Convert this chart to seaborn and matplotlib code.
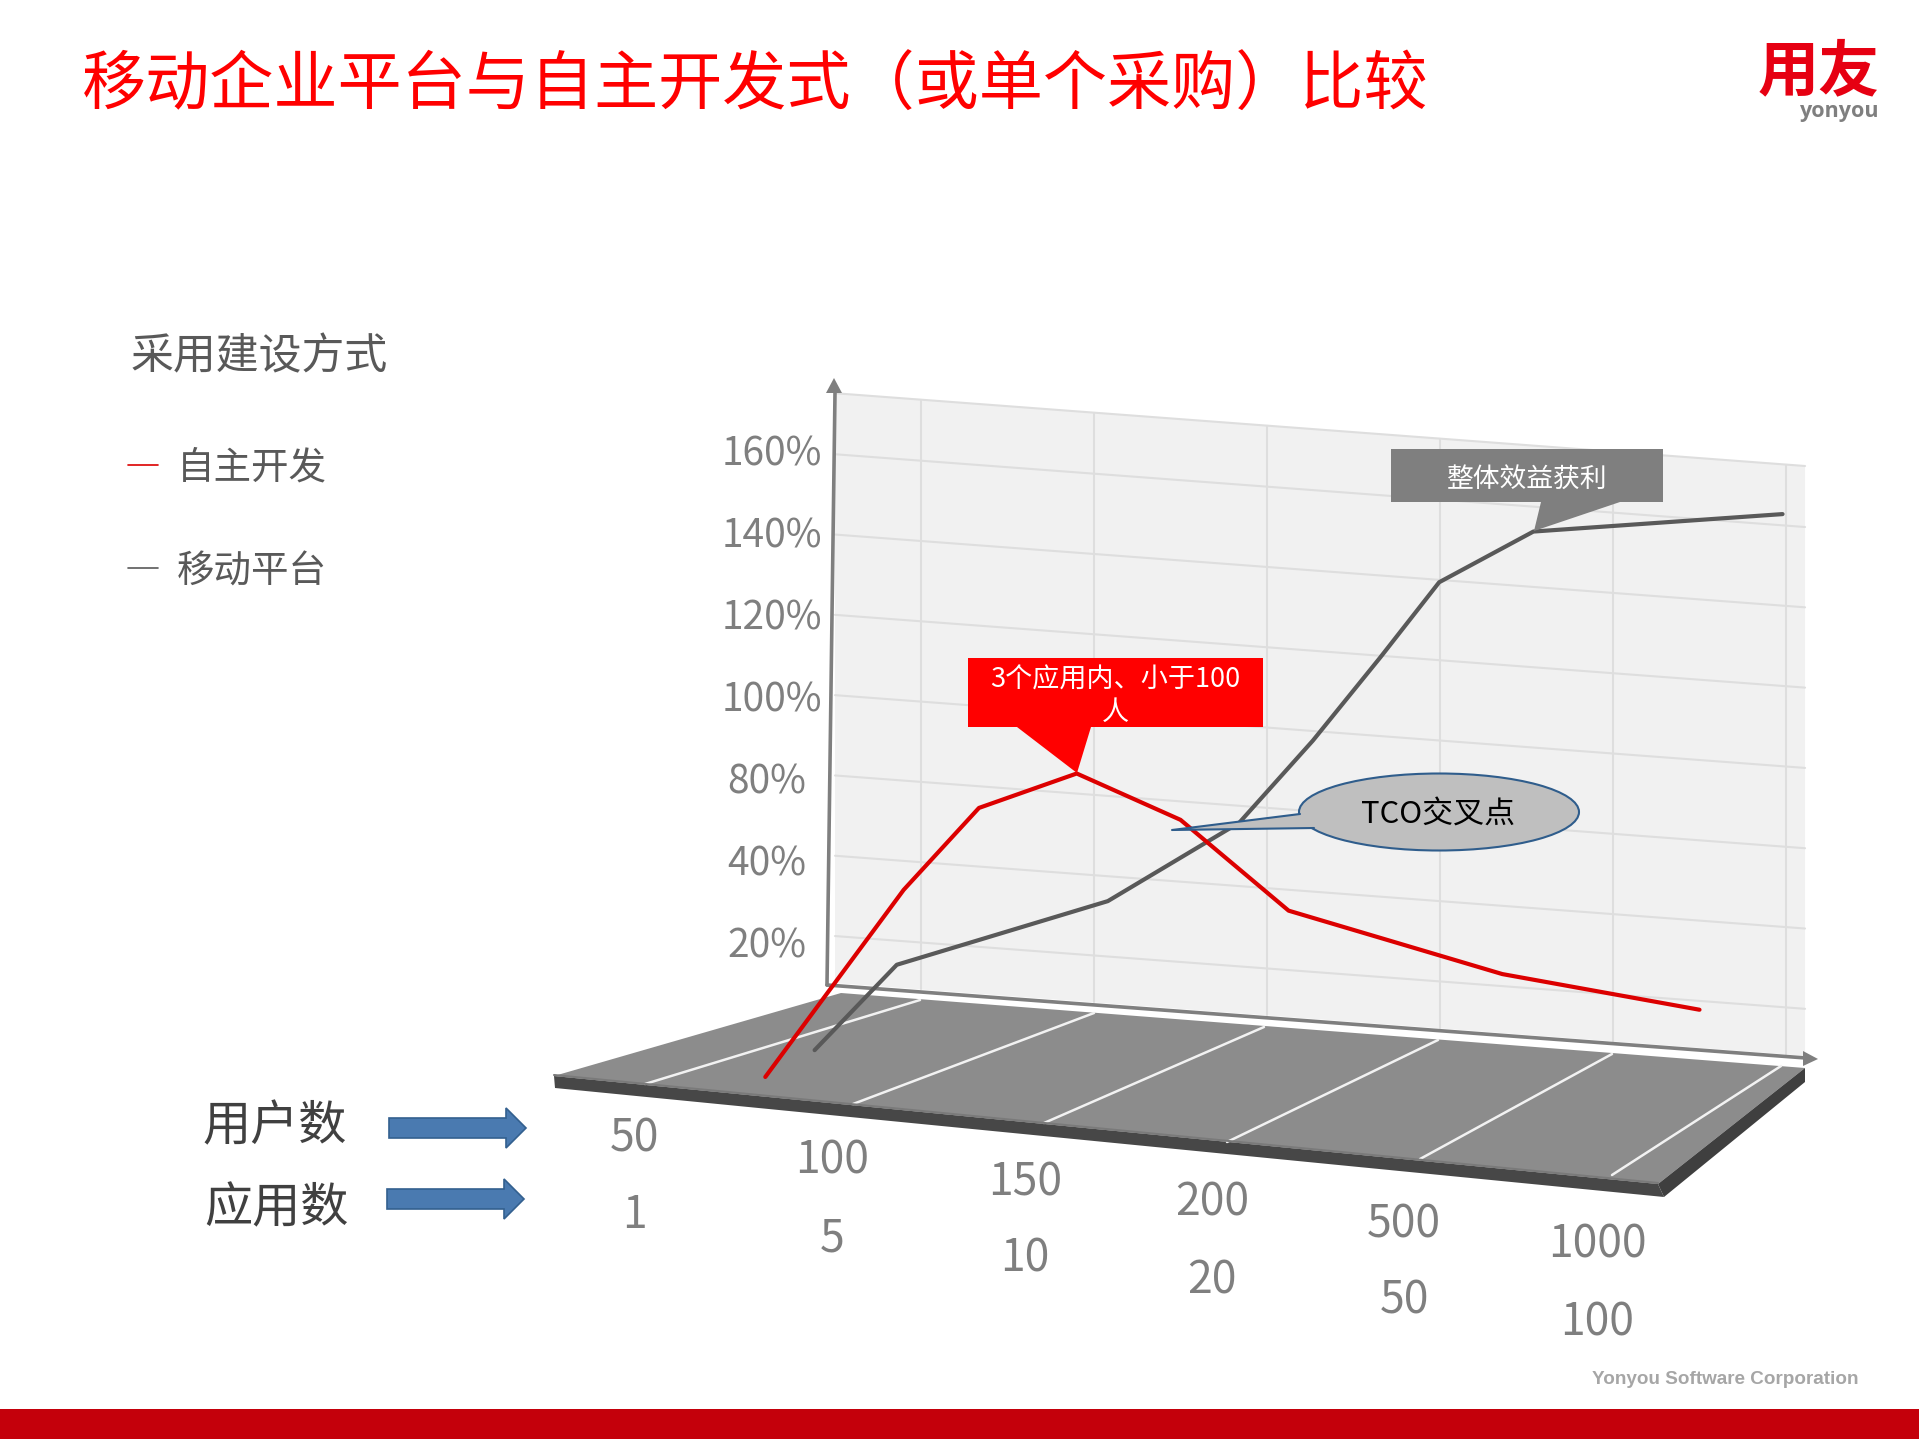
import numpy as np
import matplotlib
matplotlib.use("Agg")
import matplotlib.pyplot as plt
from matplotlib.patches import Ellipse, Polygon, Rectangle
from matplotlib.transforms import Affine2D
import seaborn as sns

# levels are the printed rows of the chart: 20% is row 1, 160% is row 7 (there is no 60%)
percent_labels = ["20%", "40%", "80%", "100%", "120%", "140%", "160%"]
users = ["50", "100", "150", "200", "500", "1000"]
apps = ["1", "5", "10", "20", "50", "100"]

own_pos = [-0.90, -0.10, 0.335, 0.90, 1.50, 2.125, 3.36, 4.50]
own_level = [-0.82, 1.64, 2.73, 3.25, 2.77, 1.74, 1.15, 0.89]
platform_pos = [-0.615, -0.14, 1.08, 1.84, 2.265, 2.655, 2.995, 3.54, 4.98]
platform_level = [-0.44, 0.70, 1.69, 2.79, 3.88, 4.98, 5.97, 6.69, 7.14]

RED = "#dc0000"
DARK = "#595959"
GREY = "#7f7f7f"

sns.set_theme(style="white")
plt.rcParams["font.family"] = ["Noto Sans CJK SC", "DejaVu Sans"]

fig = plt.figure(figsize=(19.19, 14.39), dpi=100)
ax = fig.add_axes([0, 0, 1, 1])
ax.set_axis_off()

# slanted back wall: unit x = one column, unit y = one printed row
wall = Affine2D(np.array([[173.0, 0.0, 921.0], [12.98, -80.3, 1022.8], [0, 0, 1]])) + ax.transData

wall_u = (-0.497, 5.11)
wall_v = (0.415, 7.76)
ax.add_patch(Polygon([(wall_u[0], wall_v[0]), (wall_u[1], wall_v[0]), (wall_u[1], wall_v[1]), (wall_u[0], wall_v[1])],
                     transform=wall, fc="#f1f1f1", ec="none", zorder=1))
for k in range(6):
    ax.plot([k, k], [wall_v[0], wall_v[1]], transform=wall, color="#dedede", lw=1.5, zorder=2)
for row in list(range(1, 8)) + [wall_v[1]]:
    ax.plot(wall_u, [row, row], transform=wall, color="#dedede", lw=1.5, zorder=2)

# floor
ax.add_patch(Polygon([(554, 1076), (841, 993), (1805, 1068), (1658, 1184)], fc="#8c8c8c", ec="none", zorder=1))
ax.add_patch(Polygon([(554, 1076), (555, 1088), (1664, 1197), (1658, 1184)], fc="#474747", ec="none", zorder=1))
ax.add_patch(Polygon([(1658, 1184), (1664, 1197), (1805, 1082), (1805, 1068)], fc="#3f3f3f", ec="none", zorder=1))
floor_x0 = [645, 853, 1044, 1227, 1420, 1612]
floor_y0 = [1084, 1104, 1123, 1142, 1159, 1175]
floor_x1 = [920, 1094, 1264, 1438, 1612, 1781]
floor_y1 = [1000, 1013, 1027, 1040, 1054, 1066]
for x0, y0, x1, y1 in zip(floor_x0, floor_y0, floor_x1, floor_y1):
    ax.plot([x0, x1], [y0, y1], color="#f2f2f2", lw=1.8, zorder=2)
ax.plot([554, 1658], [1075, 1183], color="#7a7a7a", lw=1.5, zorder=2)

# axes of the drawing
ax.plot([827, 835], [985, 393], color=GREY, lw=2.6, zorder=3)
ax.plot([827, 1806], [985, 1058], color=GREY, lw=2.6, zorder=3)
ax.add_patch(Polygon([(826, 393), (834, 378), (842, 393)], fc=GREY, ec="none", zorder=3))
ax.add_patch(Polygon([(1803, 1051), (1818, 1059), (1803, 1066)], fc=GREY, ec="none", zorder=3))

sns.lineplot(x=platform_pos, y=platform_level, sort=False, color=DARK, lw=3, transform=wall, ax=ax, zorder=4)
sns.lineplot(x=own_pos, y=own_level, sort=False, color=RED, lw=3, transform=wall, ax=ax, zorder=5)


def label(x, y, s, size, color, **kw):
    kw.setdefault("ha", "center")
    ax.text(x, y, s, fontsize=size, color=color, va="center", zorder=8, **kw)


# tick labels
pct_x = [767, 767, 767, 772, 772, 772, 772]
pct_y = [947, 865, 783, 701, 618, 536, 454]
for x, y, s in zip(pct_x, pct_y, percent_labels):
    label(x, y, s, 28, GREY)
cat_x = [634, 832, 1025, 1212, 1404, 1597]
user_y = [1139, 1161, 1182, 1203, 1224, 1245]
app_y = [1215, 1238, 1259, 1280, 1301, 1322]
for x, y, s in zip(cat_x, user_y, users):
    label(x, y, s, 32, GREY)
for x, y, s in zip(cat_x, app_y, apps):
    label(x, y, s, 32, GREY)

# header
ax.text(82, 87, "移动企业平台与自主开发式（或单个采购）比较", fontsize=46.2, color="#ff0000", va="center", zorder=8)
ax.text(1758, 73, "用友", fontsize=44, color="#e60012", va="center", fontweight="bold", zorder=8)
ax.text(1879, 111, "yonyou", fontsize=15.5, color="#7f7f7f", va="center", ha="right", fontweight="bold",
        family=["Open Sans", "DejaVu Sans"], zorder=8)

# legend at the left
ax.text(131, 357, "采用建设方式", fontsize=30.9, color=DARK, va="center", zorder=8)
ax.text(177, 468, "自主开发", fontsize=27, color=DARK, va="center", zorder=8)
ax.text(177, 572, "移动平台", fontsize=27, color=DARK, va="center", zorder=8)
ax.plot([128, 158], [465, 465], color=RED, lw=1.2, zorder=8)
ax.plot([128, 158], [568, 568], color=DARK, lw=1.2, zorder=8)

# row names with arrows
ax.text(202, 1127, "用户数", fontsize=34.7, color="#404040", va="center", zorder=8)
ax.text(204, 1209, "应用数", fontsize=34.7, color="#404040", va="center", zorder=8)
for x0, yc in [(389, 1128), (387, 1199)]:
    ax.add_patch(Polygon([(x0, yc - 10), (x0 + 117, yc - 10), (x0 + 117, yc - 20), (x0 + 137, yc),
                          (x0 + 117, yc + 20), (x0 + 117, yc + 10), (x0, yc + 10)],
                         fc="#4a7ab0", ec="#33608f", lw=1.2, zorder=8))

# red callout
ax.add_patch(Rectangle((968, 658), 295, 69, fc="#ff0000", ec="none", zorder=6))
ax.add_patch(Polygon([(1017, 727), (1091, 727), (1077, 773)], fc="#ff0000", ec="none", zorder=6))
label(1115, 680, "3个应用内、小于100", 19.5, "white")
label(1115, 712, "人", 19.5, "white")

# grey callout
ax.add_patch(Rectangle((1391, 449), 272, 53, fc=GREY, ec="none", zorder=6))
ax.add_patch(Polygon([(1541, 502), (1620, 502), (1534, 531)], fc=GREY, ec="none", zorder=6))
label(1527, 479, "整体效益获利", 19.3, "white")

# TCO bubble
ax.add_patch(Ellipse((1439, 812), 280, 77, fc="#bfbfbf", ec="#2f5d8c", lw=1.5, zorder=6))
ax.add_patch(Polygon([(1172, 830), (1300, 814), (1314, 828)], fc="#bfbfbf", ec="none", zorder=6))
ax.plot([1300, 1172, 1314], [814, 830, 828], color="#2f5d8c", lw=1.5, zorder=7)
label(1438, 815, "TCO交叉点", 22.3, "black")

# footer
ax.add_patch(Rectangle((0, 1409), 1919, 30, fc="#c4000b", ec="none", zorder=1))
ax.text(1858, 1380, "Yonyou Software Corporation", fontsize=13.6, color="#a6a6a6", ha="right", va="center",
        fontweight="bold", family=["Liberation Sans", "DejaVu Sans"], zorder=8)

ax.set_xlim(0, 1919)
ax.set_ylim(1439, 0)
ax.set_xlabel("")
ax.set_ylabel("")
fig.savefig("out.png", dpi=100, facecolor="white")
